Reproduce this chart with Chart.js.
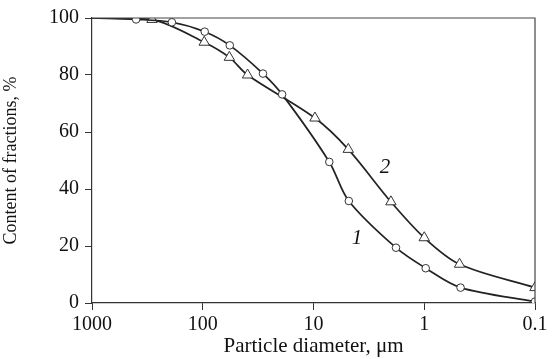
<!DOCTYPE html>
<html>
<head>
<meta charset="utf-8">
<script src="https://cdn.jsdelivr.net/npm/chart.js@4/dist/chart.umd.min.js"></script>
<style>
  html, body { margin: 0; padding: 0; background: #fff; }
  #wrap { width: 552px; height: 359px; }
</style>
</head>
<body>
<div id="wrap"><canvas id="myChart"></canvas></div>
<script>
// curve 1 (circles)
const diam1 = [1000, 400, 190, 96, 57, 28.6, 19.2, 7.2, 4.8, 1.8, 0.97, 0.47, 0.1];
const frac1 = [100, 99.5, 98.5, 95.2, 90.4, 80.5, 73.2, 49.5, 35.8, 19.4, 12.2, 5.4, 0.5];
// curve 2 (triangles)
const diam2 = [1000, 287, 97, 57.5, 39.4, 9.7, 4.85, 2.0, 1.0, 0.48, 0.1];
const frac2 = [100, 99.5, 91.5, 86.2, 80, 64.9, 53.9, 35.5, 22.9, 13.6, 5.4];

const xTicks = [1000, 100, 10, 1, 0.1];
const xTickLabels = ['1000', '100', '10', '1', '0.1'];
const yTicks = [0, 20, 40, 60, 80, 100];

// curve numbers: [label, diameter, fraction]
const curveLabels = [['1', 4.05, 22.8], ['2', 2.26, 47.4]];

const ink = '#222';
const serif = '"Liberation Serif", "Times New Roman", serif';

function toPoints(xs, ys) {
  return xs.map((x, i) => ({ x: x, y: ys[i] }));
}
function radii(xs, r) {
  return xs.map(x => x === 1000 ? 0 : r);
}

const framePlugin = {
  id: 'frame',
  afterDatasetsDraw(chart) {
    const a = chart.chartArea;
    const ctx = chart.ctx;
    ctx.save();
    ctx.strokeStyle = '#444';
    ctx.lineWidth = 1.2;
    ctx.beginPath();
    ctx.moveTo(a.left, a.top);
    ctx.lineTo(a.right, a.top);
    ctx.lineTo(a.right, a.bottom);
    ctx.stroke();
    // curve numbers
    ctx.fillStyle = '#111';
    ctx.font = 'italic 21px ' + serif;
    ctx.textAlign = 'center';
    ctx.textBaseline = 'middle';
    curveLabels.forEach(c => {
      ctx.fillText(c[0], chart.scales.x.getPixelForValue(c[1]), chart.scales.y.getPixelForValue(c[2]));
    });
    ctx.restore();
  }
};

const ctx = document.getElementById('myChart').getContext('2d');
new Chart(ctx, {
  type: 'line',
  data: {
    datasets: [{
      label: '1',
      data: toPoints(diam1, frac1),
      borderColor: ink,
      borderWidth: 1.7,
      tension: 0.32,
      pointStyle: 'circle',
      pointRadius: radii(diam1, 3.8),
      pointBackgroundColor: '#fff',
      pointBorderColor: '#333',
      pointBorderWidth: 1
    }, {
      label: '2',
      data: toPoints(diam2, frac2),
      borderColor: ink,
      borderWidth: 1.7,
      tension: 0.32,
      pointStyle: 'triangle',
      pointRadius: radii(diam2, 6),
      pointBackgroundColor: '#fff',
      pointBorderColor: '#333',
      pointBorderWidth: 1
    }]
  },
  options: {
    responsive: true,
    maintainAspectRatio: false,
    animation: false,
    layout: { padding: { top: 18, right: 17, left: 0, bottom: 0 } },
    plugins: { legend: { display: false }, tooltip: { enabled: false } },
    scales: {
      x: {
        type: 'logarithmic',
        min: 0.1,
        max: 1000,
        reverse: true,
        afterBuildTicks: s => { s.ticks = xTicks.map(v => ({ value: v })); },
        afterFit: s => { s.height = 56; },
        ticks: {
          color: '#111',
          font: { family: serif, size: 20 },
          padding: 3,
          maxRotation: 0,
          autoSkip: false,
          callback: (v) => xTickLabels[xTicks.indexOf(v)]
        },
        grid: { drawOnChartArea: false, drawTicks: true, tickLength: 7, color: '#333' },
        border: { display: true, color: '#333', width: 1.2 },
        title: { display: true, text: 'Particle diameter, μm', color: '#111', font: { family: serif, size: 21 }, padding: { top: 0, bottom: 0 } }
      },
      y: {
        min: 0,
        max: 100,
        afterBuildTicks: s => { s.ticks = yTicks.map(v => ({ value: v })); },
        afterFit: s => { s.width = 92; },
        ticks: { color: '#111', font: { family: serif, size: 20 }, padding: 6 },
        grid: { drawOnChartArea: false, drawTicks: true, tickLength: 7, color: '#333' },
        border: { display: true, color: '#333', width: 1.2 },
        title: { display: true, text: 'Content of fractions, %', color: '#111', font: { family: serif, size: 18 }, padding: { top: 0, bottom: 2 } }
      }
    }
  },
  plugins: [framePlugin]
});
</script>
</body>
</html>
